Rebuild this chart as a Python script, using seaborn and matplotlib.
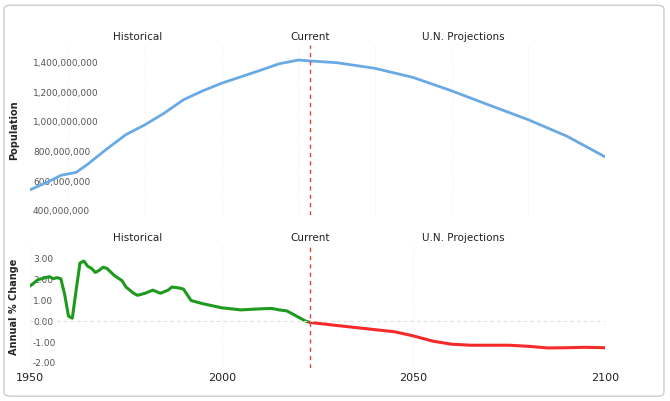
import matplotlib
matplotlib.use("Agg")
import matplotlib.pyplot as plt
import seaborn as sns
import numpy as np
from matplotlib.ticker import FuncFormatter
from matplotlib.patches import FancyBboxPatch

sns.set_style("white")

pop_years = [1950,1955,1958,1960,1962,1965,1970,1975,1980,1985,1990,1995,2000,2005,2010,2015,2020,2023,
             2030,2040,2050,2060,2070,2080,2090,2100]
pop_vals = [543,600,640,650,660,715,818,915,982,1060,1150,1210,1262,1305,1348,1393,1418,1412,
            1400,1362,1300,1210,1112,1015,905,765]
pop_vals = [v*1e6 for v in pop_vals]

hist_years = [1950,1952,1954,1955,1956,1957,1958,1959,1960,1961,1962,1963,1964,1965,1966,1967,1968,1969,1970,
              1972,1974,1975,1977,1978,1980,1982,1984,1986,1987,1989,1990,1992,1995,2000,2005,2010,2013,2015,2017,2020,2022,2023]
hist_chg = [1.7,2.0,2.1,2.15,2.05,2.1,2.05,1.3,0.25,0.15,1.5,2.8,2.9,2.65,2.55,2.35,2.45,2.6,2.55,
            2.2,1.95,1.65,1.35,1.25,1.35,1.5,1.35,1.5,1.65,1.6,1.55,1.0,0.85,0.65,0.55,0.6,0.62,0.55,0.5,0.2,0.0,-0.05]
proj_years = [2023,2030,2040,2045,2050,2055,2060,2065,2075,2080,2085,2090,2095,2100]
proj_chg = [-0.05,-0.2,-0.4,-0.5,-0.7,-0.95,-1.1,-1.15,-1.15,-1.2,-1.28,-1.27,-1.25,-1.27]

current = 2023
fig = plt.figure(figsize=(6.7,4.01), dpi=100)
bg = FancyBboxPatch((0.006,0.012),0.985,0.975, boxstyle="round,pad=0,rounding_size=0.01",
                    transform=fig.transFigure, facecolor="white", edgecolor="#cccccc", lw=1, zorder=-10)
fig.patches.append(bg)
ax1 = fig.add_axes([0.045,0.464,0.858,0.424])
ax2 = fig.add_axes([0.045,0.082,0.858,0.307])

sns.lineplot(x=pop_years, y=pop_vals, ax=ax1, color="#6aaae4", lw=2)
ax1.set_ylim(373e6, 1520e6)
ax1.set_yticks([400e6,600e6,800e6,1000e6,1200e6,1400e6])
ax1.yaxis.set_major_formatter(FuncFormatter(lambda v,p: f"{v:,.0f}"))
ax1.set_ylabel("Population", fontsize=7, fontweight="bold")
ax1.set_xticklabels([])

sns.lineplot(x=hist_years, y=hist_chg, ax=ax2, color="#1e9a1e", lw=2.2)
sns.lineplot(x=proj_years, y=proj_chg, ax=ax2, color="#f52a2a", lw=2.2)
ax2.set_ylim(-2.25, 3.67)
ax2.set_yticks([-2,-1,0,1,2,3])
ax2.yaxis.set_major_formatter(FuncFormatter(lambda v,p: f"{v:.2f}"))
ax2.axhline(0, color="#dddddd", lw=0.8, ls=(0,(3,3)))
ax2.set_ylabel("Annual % Change", fontsize=7, fontweight="bold")
ax2.set_xticks([1950,2000,2050,2100])

for ax in (ax1, ax2):
    ax.set_xlim(1950, 2100)
    ax.axvline(current, color="#e04040", lw=1, ls=(0,(3,3)))
    for s in ax.spines.values():
        s.set_visible(False)
    ax.tick_params(axis="y", labelsize=6.5, labelcolor="#555555", length=0, pad=-2)
    for lab in ax.get_yticklabels():
        lab.set_horizontalalignment("left")
    ax.tick_params(axis="x", labelsize=8, labelcolor="#222222", length=0)
    ax.set_facecolor("none")
    ax.grid(axis="x", color="#eeeeee", ls=":", lw=0.8)
    ax.yaxis.set_label_coords(-0.02, 0.5)
    for x, t in [(1978,"Historical"),(current,"Current"),(2063,"U.N. Projections")]:
        ax.text(x, 1.02, t, transform=ax.get_xaxis_transform(), ha="center", va="bottom", fontsize=7.5, color="#222222")
fig.savefig("out.png", dpi=100)
